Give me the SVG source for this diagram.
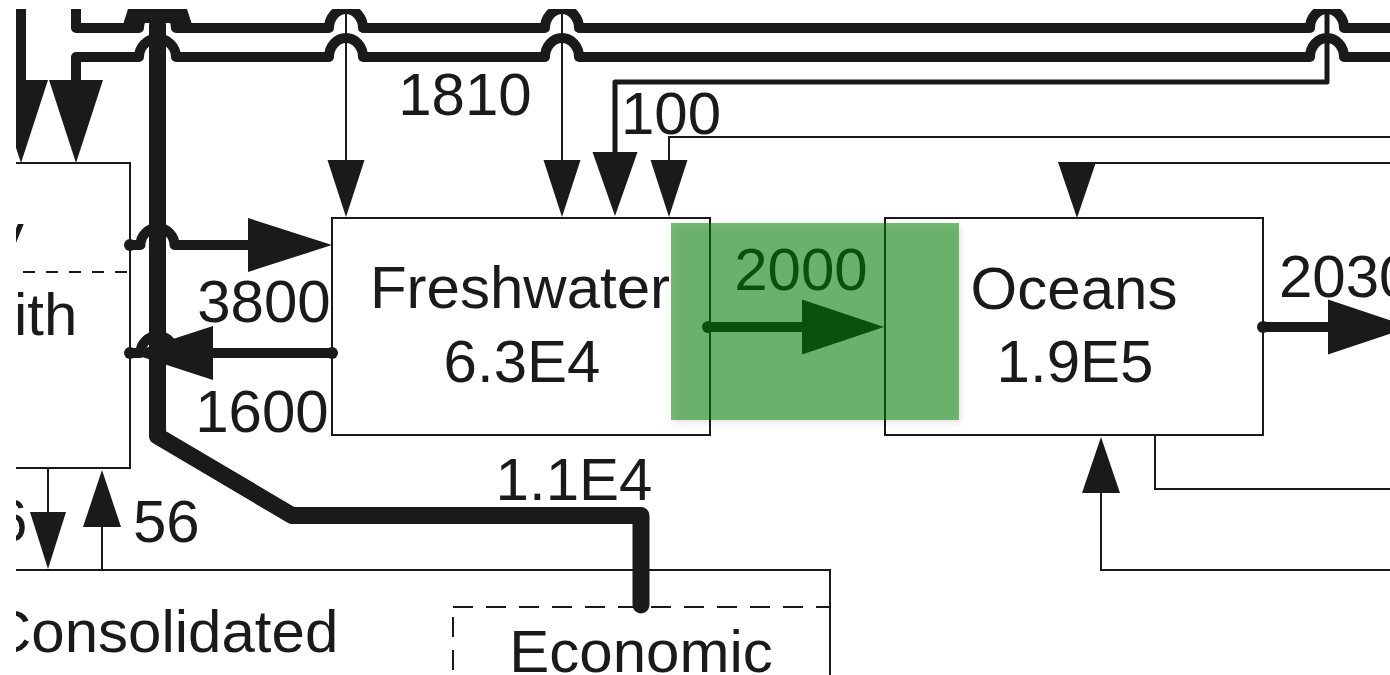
<svg xmlns="http://www.w3.org/2000/svg" width="1390" height="675" viewBox="0 0 1390 675">
<defs>
<clipPath id="crop"><rect x="16" y="9" width="1374" height="666"/></clipPath>
<filter id="shadow" x="-10%" y="-10%" width="130%" height="130%"><feDropShadow dx="2" dy="3" stdDeviation="3" flood-color="#000" flood-opacity="0.2"/></filter>
<style>
.t{font-family:"Liberation Sans",Arial,Helvetica,sans-serif;font-size:60px;fill:#1a1a1a}
.m{text-anchor:middle}
.box{fill:none;stroke:#1a1a1a;stroke-width:2}
.thin{fill:none;stroke:#1a1a1a;stroke-width:2}
.mid{fill:none;stroke:#1a1a1a;stroke-width:5;stroke-linejoin:round}
.thick{fill:none;stroke:#1a1a1a;stroke-width:10;stroke-linejoin:round;stroke-linecap:round}
.heavy{fill:none;stroke:#1a1a1a;stroke-width:17;stroke-linejoin:round;stroke-linecap:round}
.ah{fill:#1a1a1a;stroke:none}
.dot{fill:#1a1a1a}
</style>
</defs>
<rect width="1390" height="675" fill="#ffffff"/>
<g clip-path="url(#crop)">
<g id="node-left">
<path class="box" d="M0,163 L130,163 L130,468 L0,468"/>
<path class="thin" d="M0,272 L130,272" stroke-dasharray="12 11"/>
<text class="t" x="-16" y="265">V</text>
<text class="t" x="14" y="335">ith</text>
</g>
<g id="node-freshwater">
<rect class="box" x="332" y="218" width="378" height="217" fill="#fff"/>
<text class="t m" x="520" y="308">Freshwater</text>
<text class="t m" x="522" y="382">6.3E4</text>
</g>
<g id="node-oceans">
<rect class="box" x="885" y="218" width="378" height="217" fill="#fff"/>
<text class="t m" x="1074" y="309">Oceans</text>
<text class="t m" x="1075" y="382">1.9E5</text>
</g>
<g id="node-consolidated">
<path class="box" d="M0,570 L830,570 L830,700"/>
<text class="t" x="-12" y="652">Consolidated</text>
</g>
<g id="node-economic">
<rect class="box" x="453" y="607" width="377" height="100" stroke-dasharray="20 13"/>
<text class="t m" x="641" y="672">Economic</text>
</g>
<g id="connectors">
<path class="thick" d="M76,0 L76,28 L139,28 A18.5,18.5 0 0 1 176,28 L329,28 A17,19 0 0 1 363,28 L545,28 A17,19 0 0 1 579,28 L1310,28 A17,19 0 0 1 1344,28 L1400,28"/>
<path class="thick" d="M1400,57 L1344,57 A17,19 0 0 0 1310,57 L579,57 A17,19 0 0 0 545,57 L363,57 A17,19 0 0 0 329,57 L176,57 A18.5,18.5 0 0 0 139,57 L76,57 L76,82"/>
<polygon class="ah" points="49,80 103,80 76,163"/>
<path class="thick" d="M21,0 L21,82" stroke-linecap="butt"/>
<polygon class="ah" points="-6,80 48,80 21,163"/>
<path class="thin" d="M346,0 L346,162"/>
<polygon class="ah" points="327.5,160 364.5,160 346,217"/>
<path class="thin" d="M562,0 L562,162"/>
<polygon class="ah" points="543.5,160 580.5,160 562,217"/>
<path class="mid" d="M1327,0 L1327,82 L615,82 L615,154"/>
<polygon class="ah" points="592.5,152 637.5,152 615,216"/>
<path class="thin" d="M1400,137 L669,137 L669,162"/>
<polygon class="ah" points="650.5,160 687.5,160 669,217"/>
<path class="thin" d="M1400,163 L1090,163"/>
<polygon class="ah" points="1058,162 1096,162 1077,218"/>
<path class="thin" d="M1155,435 L1155,489 L1400,489"/>
<path class="thin" d="M1400,570 L1101,570 L1101,491"/>
<polygon class="ah" points="1082,493 1120,493 1101,437"/>
<path class="heavy" d="M641,605 L641,515.5 L292,515.5 L157.5,436 L157.5,25"/>
<polygon class="ah" points="123.5,23 191.5,23 157.5,-83"/>
<path class="thick" d="M130,245 L140.5,245 A17,17 0 0 1 174.5,245 L252,245" stroke-linecap="butt"/>
<circle class="dot" cx="130" cy="245" r="6"/>
<polygon class="ah" points="248,218 248,272 332,245"/>
<path class="thick" d="M332,353 L174.5,353 A17,17 0 0 0 140.5,353 L130,353"/>
<circle class="dot" cx="332" cy="353" r="6"/>
<circle class="dot" cx="130" cy="353" r="6"/>
<polygon class="ah" points="213,326 213,380 130,353"/>
<path class="thick" d="M708,327 L805,327"/>
<circle class="dot" cx="708" cy="327" r="6"/>
<polygon class="ah" points="802,299.5 802,354.5 884,327"/>
<path class="thick" d="M1263,327 L1331,327"/>
<circle class="dot" cx="1263" cy="327" r="6"/>
<polygon class="ah" points="1328,299.5 1328,354.5 1410,327"/>
<path class="thin" d="M48,468 L48,514"/>
<polygon class="ah" points="30,512 66,512 48,569"/>
<path class="thin" d="M102,570 L102,525"/>
<polygon class="ah" points="83,527 121,527 102,470"/>
</g>
<g id="labels">
<text class="t m" x="465" y="115">1810</text>
<text class="t" x="621" y="134">100</text>
<text class="t m" x="264" y="322">3800</text>
<text class="t m" x="262" y="432">1600</text>
<text class="t m" x="801" y="290">2000</text>
<text class="t" x="1279" y="297">2030</text>
<text class="t m" x="574" y="500">1.1E4</text>
<text class="t" x="133" y="542">56</text>
<text class="t" x="-6" y="541">6</text>
</g>
<g id="highlight">
<rect x="671" y="223" width="288" height="197" fill="rgb(0,125,0)" fill-opacity="0.53" filter="url(#shadow)"/>
</g>
</g>
</svg>
